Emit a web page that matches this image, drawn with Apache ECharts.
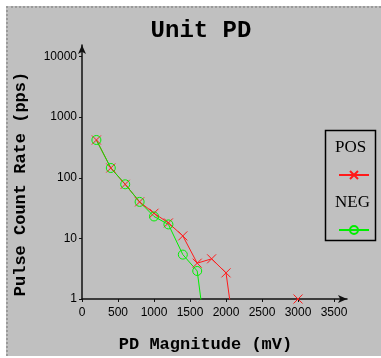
<!DOCTYPE html>
<html>
<head>
<meta charset="utf-8">
<script src="https://cdn.jsdelivr.net/npm/echarts@6/dist/echarts.min.js"></script>
<style>
  html, body { margin: 0; padding: 0; background: #fff; }
  #panel {
    position: absolute; left: 6px; top: 6px; width: 375px; height: 350px;
    background: #c0c0c0;
    border-left: 2px dotted #9a9a9a; border-top: 2px dotted #9a9a9a;
    box-sizing: border-box;
  }
  #chart { position: absolute; left: 0; top: 0; width: 381px; height: 358px; }
</style>
</head>
<body>
<div id="panel"></div>
<div id="chart"></div>
<script>
// values
const posX = [200, 400, 600, 800, 1000, 1200, 1400, 1600, 1800, 2000, 2100, 3000];
const posY = [420, 145, 78, 40, 26, 18, 11, 3.9, 4.6, 2.7, 0.37, 1];
const negX = [200, 400, 600, 800, 1000, 1200, 1400, 1600, 1700];
const negY = [420, 145, 78, 40, 23, 17, 5.4, 2.9, 0.35];
const xTicks = [0, 500, 1000, 1500, 2000, 2500, 3000, 3500];
const yTicks = [1, 10, 100, 1000, 10000];

var chart = echarts.init(document.getElementById('chart'));

const pairs = (xs, ys) => xs.map((x, i) => [x, ys[i]]);
const mono = '"Liberation Mono", "DejaVu Sans Mono", monospace';
const plain = v => String(Math.round(v));

const option = {
  backgroundColor: 'transparent',
  animation: false,
  title: {
    text: 'Unit PD',
    left: 196,
    textAlign: 'center',
    top: 14,
    textStyle: { fontFamily: mono, fontWeight: 'bold', fontSize: 24, color: '#000' }
  },
  grid: { left: 82, right: 34, top: 45, bottom: 50 },
  legend: {
    orient: 'vertical',
    left: 333,
    top: 165,
    itemWidth: 30,
    itemHeight: 10,
    itemGap: 45,
    formatter: () => '',
    data: ['POS', 'NEG']
  },
  graphic: [
    { type: 'rect', left: 323, top: 128, shape: { width: 50, height: 110 },
      style: { fill: 'none', stroke: '#000', lineWidth: 1.5 }, z: 0 },
    { type: 'text', left: 335, top: 139,
      style: { text: 'POS', font: '17px "Liberation Serif", serif', fill: '#000' } },
    { type: 'text', left: 335, top: 194,
      style: { text: 'NEG', font: '17px "Liberation Serif", serif', fill: '#000' } }
  ],
  xAxis: {
    type: 'value',
    min: 0,
    max: 3680,
    name: 'PD Magnitude (mV)',
    nameLocation: 'middle',
    nameGap: 37,
    nameTextStyle: { fontFamily: mono, fontWeight: 'bold', fontSize: 17, color: '#000', padding: [0, 18, 0, 0] },
    axisLine: { lineStyle: { color: '#111', width: 1.5 }, symbol: ['none', 'arrow'], symbolSize: [6, 9] },
    axisTick: { length: 3, lineStyle: { color: '#111' }, customValues: xTicks },
    axisLabel: { margin: 8, color: '#000', fontFamily: '"Liberation Sans", Arial, sans-serif', fontSize: 12,
      customValues: xTicks, formatter: plain },
    splitLine: { show: false }
  },
  yAxis: {
    type: 'log',
    logBase: 10,
    min: 1,
    max: 15500,
    name: 'Pulse Count Rate (pps)',
    nameLocation: 'middle',
    nameGap: 53,
    nameTextStyle: { fontFamily: mono, fontWeight: 'bold', fontSize: 17, color: '#000', padding: [0, 24, 0, 0] },
    axisLine: { lineStyle: { color: '#111', width: 1.5 }, symbol: ['none', 'arrow'], symbolSize: [6, 9] },
    axisTick: { length: 3, lineStyle: { color: '#111' }, customValues: yTicks },
    axisLabel: { margin: 5, color: '#000', fontFamily: '"Liberation Sans", Arial, sans-serif', fontSize: 12,
      customValues: yTicks, formatter: plain },
    splitLine: { show: false }
  },
  series: [
    {
      name: 'POS',
      type: 'line',
      data: pairs(posX, posY),
      symbol: 'path://M0,0L10,10M10,0L0,10',
      symbolSize: 9,
      lineStyle: { color: '#ff1a1a', width: 1 },
      itemStyle: { color: 'rgba(0,0,0,0)', borderColor: '#ff1a1a', borderWidth: 1 }
    },
    {
      name: 'NEG',
      type: 'line',
      data: pairs(negX, negY),
      symbol: 'circle',
      symbolSize: 9,
      lineStyle: { color: '#00ee00', width: 1 },
      itemStyle: { color: 'rgba(0,0,0,0)', borderColor: '#00ee00', borderWidth: 1 }
    }
  ]
};
chart.setOption(option);
</script>
</body>
</html>
